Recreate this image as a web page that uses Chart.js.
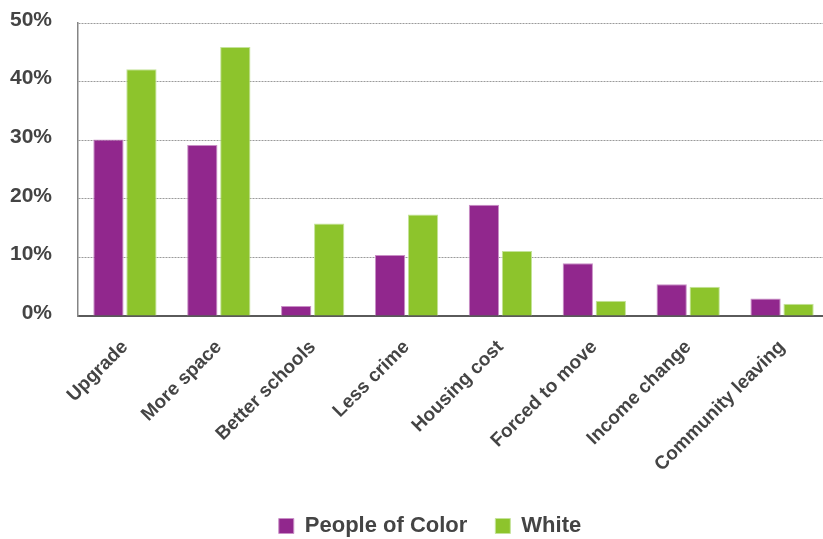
<!DOCTYPE html>
<html>
<head>
<meta charset="utf-8">
<script src="https://cdn.jsdelivr.net/npm/chart.js@4/dist/chart.umd.min.js"></script>
<style>
  html, body { margin: 0; padding: 0; background: #ffffff; overflow: hidden; width: 823px; height: 539px; }
  #wrap { position: absolute; left: 0; top: 0; width: 860px; height: 547px; }
</style>
</head>
<body>
<div id="wrap"><canvas id="c" width="860" height="547"></canvas></div>
<script>
const categories = ["Upgrade", "More space", "Better schools", "Less crime", "Housing cost", "Forced to move", "Income change", "Community leaving"];
const peopleOfColor = [30.1, 29.2, 1.7, 10.4, 19.0, 9.0, 5.4, 3.0];
const white = [42.1, 45.9, 15.8, 17.3, 11.1, 2.6, 5.0, 2.1];
const seriesNames = ["People of Color", "White"];
const yTicks = [0, 10, 20, 30, 40, 50];

const FONT = "'Liberation Sans', Arial, sans-serif";

new Chart(document.getElementById('c'), {
  type: 'bar',
  data: {
    labels: categories,
    datasets: [
      { label: seriesNames[0], data: peopleOfColor, backgroundColor: '#91278D', borderColor: '#c98fc6', borderWidth: 1, borderSkipped: 'bottom' },
      { label: seriesNames[1], data: white, backgroundColor: '#8DC42C', borderColor: '#c4e39a', borderWidth: 1, borderSkipped: 'bottom' }
    ]
  },
  options: {
    responsive: false,
    animation: false,
    devicePixelRatio: 1,
    layout: { padding: { left: 0, right: 0, top: 23, bottom: 0 } },
    datasets: { bar: { categoryPercentage: 0.703, barPercentage: 0.918 } },
    plugins: {
      tooltip: { enabled: false },
      legend: {
        position: 'bottom',
        labels: {
          boxWidth: 15, boxHeight: 15, padding: 28,
          color: '#444444',
          font: { family: FONT, size: 22, weight: 'bold' }
        }
      }
    },
    scales: {
      x: {
        grid: { display: false, drawTicks: false },
        border: { display: true, color: '#5a5a5a', width: 2 },
        ticks: {
          minRotation: 45, maxRotation: 45, padding: 20, autoSkip: false,
          color: '#444444',
          font: { family: FONT, size: 19, weight: 'bold' }
        },
        afterFit: (s) => { s.height = 171; }
      },
      y: {
        min: 0, max: 50,
        afterBuildTicks: (s) => { s.ticks = yTicks.map(v => ({ value: v })); },
        grid: { color: '#9a9a9a', lineWidth: 1, drawTicks: false },
        border: { display: true, color: '#858585', width: 1.5, dash: [2, 1] },
        ticks: {
          padding: 26,
          labelOffset: -3,
          color: '#444444',
          font: { family: FONT, size: 21, weight: 'bold' },
          callback: (v) => v + '%'
        },
        afterFit: (s) => { s.width = 78; s.paddingTop = 0; s.paddingBottom = 0; }
      },
      yRight: {
        position: 'right',
        display: true,
        min: 0, max: 50,
        grid: { display: false, drawTicks: false },
        border: { display: false },
        ticks: { display: false },
        afterFit: (s) => { s.width = 31; s.paddingTop = 0; s.paddingBottom = 0; }
      }
    }
  }
});
</script>
</body>
</html>
